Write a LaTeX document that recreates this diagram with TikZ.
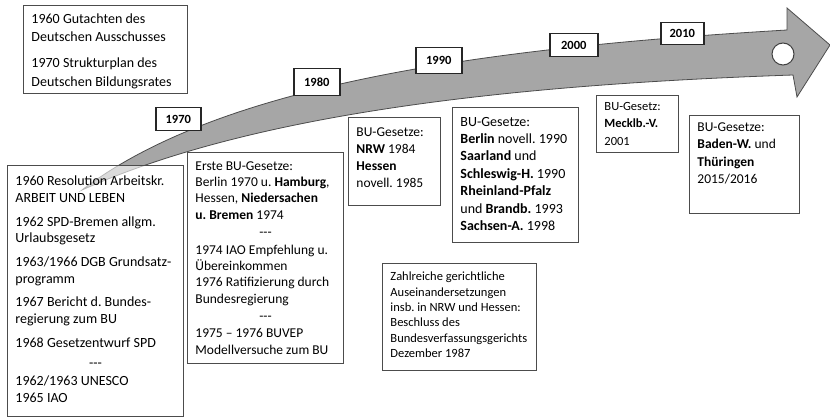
\documentclass[tikz,border=0pt]{standalone}
\usepackage{fontspec}
\setmainfont{Carlito}
\frenchspacing
\newcommand{\boxtxt}[4]{\parbox[t][#2][t]{#1}{\vspace*{#3}\raggedright #4}}
\newcommand{\sepline}{\makebox[\linewidth]{-{}-{}-}}
\begin{document}
\begin{tikzpicture}[x=1pt,y=-1pt,
  infobox/.style={draw=black!70, line width=0.9pt, fill=white, anchor=north west,
    inner xsep=8pt, inner ysep=7pt, align=left},
  yearbox/.style={draw=black!85, line width=1.5pt, fill=white, anchor=north west,
    inner sep=0pt, font=\bfseries\fontsize{12.5}{14}\selectfont},
  arrowbody/.style={fill=black!35, draw=black!70, line width=0.8pt}]
\useasboundingbox (0,0) rectangle (830,417);

% big curved arrow
\draw[arrowbody] (82,190) .. controls (220,85) and (480,48) .. (787,30)
  -- (787,8) -- (830,45) -- (797,97) -- (793,75)
  .. controls (500,85) and (250,115) .. (82,190) -- cycle;
\node[draw=black!75, line width=1pt, fill=white, circle, minimum size=22pt, inner sep=0pt] (ring) at (783,54) {};

% year boxes
\node[yearbox, minimum width=45pt, minimum height=23pt] (y1970) at (155,107) {1970};
\node[yearbox, minimum width=46pt, minimum height=27pt] (y1980) at (293,68) {1980};
\node[yearbox, minimum width=46pt, minimum height=26pt] (y1990) at (415,47) {1990};
\node[yearbox, minimum width=48pt, minimum height=23pt] (y2000) at (549,33) {2000};
\node[yearbox, minimum width=43pt, minimum height=22pt] (y2010) at (660,22) {2010};

% top-left box
\node[infobox, font=\fontsize{14}{18.3}\selectfont] (gut) at (23,5)
  {\boxtxt{148pt}{74pt}{1pt}{1960 Gutachten des\\ Deutschen Ausschusses\\[8pt]
   1970 Strukturplan des\\ Deutschen Bildungsrates}};

% box A
\node[infobox, fill opacity=0.6, text opacity=1, font=\fontsize{14}{16.9}\selectfont] (boxA) at (7,165)
  {\boxtxt{160pt}{237pt}{3.5pt}{1960 Resolution Arbeitskr.\\ ARBEIT UND LEBEN\\[6.6pt]
   1962 SPD-Bremen allgm.\\ Urlaubsgesetz\\[6.6pt]
   1963/1966 DGB Grundsatz-\\ programm\\[6.6pt]
   1967 Bericht d. Bundes-\\ regierung zum BU\\[6.6pt]
   1968 Gesetzentwurf SPD\\[3pt] \sepline\\[1.5pt] 1962/1963 UNESCO\\ 1965 IAO}};

% box B
\node[infobox, font=\fontsize{13.5}{16.3}\selectfont] (boxB) at (187,152)
  {\boxtxt{140pt}{197pt}{2pt}{Erste BU-Gesetze:\\ Berlin 1970 u. \textbf{Hamburg},\\
   Hessen, \textbf{Niedersachen}\\ \textbf{u. Bremen} 1974\\[1pt] \sepline\\[1.5pt]
   1974 IAO Empfehlung u.\\ Übereinkommen\\ 1976 Ratifizierung durch\\
   Bundesregierung\\[1pt] \sepline\\[1pt] 1975 – 1976 BUVEP\\ Modellversuche zum BU}};

% box C
\node[infobox, font=\fontsize{13.5}{17}\selectfont] (boxC) at (348,117)
  {\boxtxt{76pt}{74pt}{3pt}{BU-Gesetze:\\ \textbf{NRW} 1984\\ \textbf{Hessen}\\ novell. 1985}};

% box D
\node[infobox, font=\fontsize{14}{17.4}\selectfont] (boxD) at (452,107)
  {\boxtxt{110pt}{121pt}{2.5pt}{BU-Gesetze:\\ \textbf{Berlin} novell. 1990\\ \textbf{Saarland} und\\
   \textbf{Schleswig-H.} 1990\\ \textbf{Rheinland-Pfalz}\\ und \textbf{Brandb.} 1993\\
   \textbf{Sachsen-A.} 1998}};

% box E
\node[infobox, font=\fontsize{12.5}{15.4}\selectfont] (boxE) at (382,263)
  {\boxtxt{138pt}{93pt}{1.5pt}{Zahlreiche gerichtliche\\ Auseinandersetzungen\\
   insb. in NRW und Hessen:\\ Beschluss des\\ Bundesverfassungsgerichts\\ Dezember 1987}};

% box F
\node[infobox, font=\fontsize{12.5}{17.3}\selectfont] (boxF) at (596,95)
  {\boxtxt{66pt}{43pt}{0pt}{BU-Gesetz:\\ \textbf{Mecklb.-V.}\\ 2001}};

% box G
\node[infobox, font=\fontsize{13.5}{17.4}\selectfont] (boxG) at (689,115)
  {\boxtxt{94pt}{84pt}{0pt}{BU-Gesetze:\\ \textbf{Baden-W.} und\\ \textbf{Thüringen}\\ 2015/2016}};
\end{tikzpicture}
\end{document}
